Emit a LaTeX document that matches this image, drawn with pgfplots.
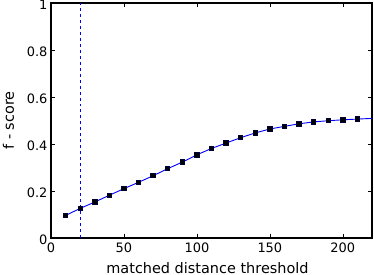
\documentclass[border=0pt]{standalone}
\usepackage{pgfplots}
\pgfplotsset{compat=1.18}
\usepackage{fontspec}
\setmainfont{DejaVu Sans}
\begin{document}
\begin{tikzpicture}
\begin{axis}[
  scale only axis,
  width=321bp, height=235bp,
  at={(0,0)}, anchor=south west,
  xmin=0, xmax=220, ymin=0, ymax=1,
  xtick={0,50,100,150,200},
  ytick={0,0.2,0.4,0.6,0.8,1},
  yticklabels={0,0.2,0.4,0.6,0.8,1},
  xticklabels={0,50,100,150,200},
  /pgf/number format/assume math mode=true,
  tick pos=both, tick align=inside,
  major tick length=4bp,
  tick style={black, line width=0.5bp},
  axis line style={black, line width=1.2bp},
  ticklabel style={font=\fontsize{13}{15}\selectfont},
  xticklabel style={yshift=-1bp},
  yticklabel style={yshift=-1.5bp},
  label style={font=\fontsize{14.5}{16}\selectfont},
  xlabel={matched distance threshold},
  ylabel={f - score},
  xlabel style={at={(axis description cs:0.5,0)}, anchor=base, yshift=-35bp, xshift=-4bp},
  ylabel style={yshift=6bp},
  clip=true,
]
\addplot[blue, line width=0.9bp, forget plot] coordinates {(210,0.506) (220,0.509)};
\addplot[blue, line width=0.9bp, mark=square*, mark size=2.2bp,
  mark options={fill=black, draw=black!80!blue, solid}] coordinates {
(10,0.096) (20,0.126) (30,0.153) (40,0.182) (50,0.210) (60,0.237)
(70,0.265) (80,0.295) (90,0.323) (100,0.354) (110,0.381) (120,0.404)
(130,0.427) (140,0.447) (150,0.464) (160,0.475) (170,0.486) (180,0.494)
(190,0.499) (200,0.503) (210,0.506)
};
\addplot[blue, dashed, line width=0.8bp] coordinates {(20,0) (20,1)};
\end{axis}
\pgfresetboundingbox
\path (-51bp,-37bp) rectangle (323bp,238bp);
\end{tikzpicture}
\end{document}
